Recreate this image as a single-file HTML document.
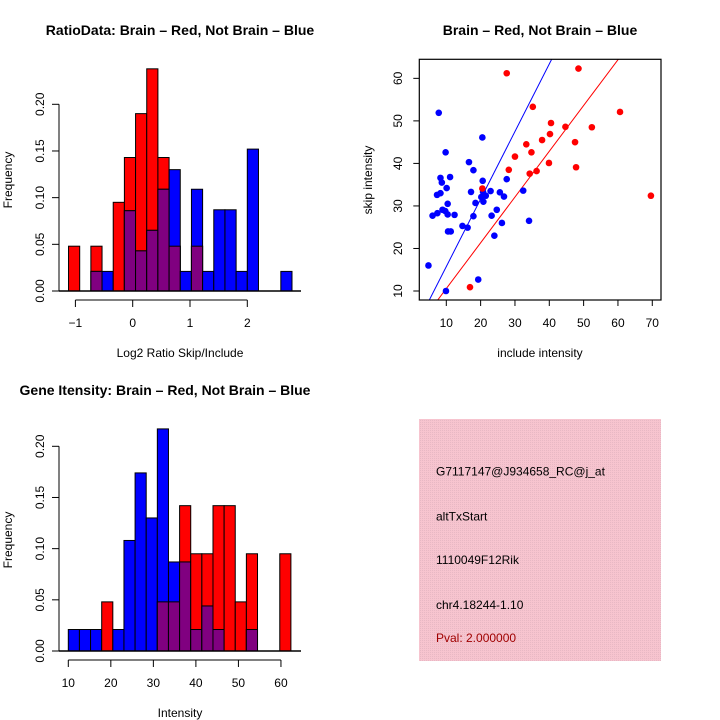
<!DOCTYPE html>
<html><head><meta charset="utf-8"><style>
html,body{margin:0;padding:0;background:#fff}
svg{display:block;font-family:"Liberation Sans",Arial,sans-serif}
</style></head><body>
<svg id="c" width="720" height="720" viewBox="0 0 720 720" xmlns="http://www.w3.org/2000/svg">
<defs>
<pattern id="pk" width="2" height="2" patternUnits="userSpaceOnUse"><rect width="2" height="2" fill="#f7c4cf"/><rect width="1" height="1" fill="#e8b8c4"/></pattern>
</defs>
</svg>
<script>
// ---- Histogram 1: log2 ratio ----
const h1Red  = [0.048,0,0.048,0,0.095,0.143,0.19,0.238,0.143,0.048,0,0.048,0,0,0,0,0,0,0,0];
const h1Blue = [0,0,0.021,0.021,0,0.086,0.043,0.065,0.109,0.13,0.021,0.109,0.021,0.087,0.087,0.021,0.152,0,0,0.021];
const h1Start = -1.12, h1Width = 0.195;
const h1XTicks = [-1,0,1,2];
const h1YTicks = [0,0.05,0.10,0.15,0.20];
// ---- Histogram 2: intensity ----
const h2Red  = [0,0,0,0.048,0,0,0,0,0.048,0.048,0.142,0.095,0.095,0.142,0.142,0.048,0.095,0,0,0.095];
const h2Blue = [0.021,0.021,0.021,0,0.021,0.108,0.174,0.13,0.217,0.087,0.087,0.021,0.044,0.021,0,0,0.021,0,0,0];
const h2Start = 10, h2Width = 2.617;
const h2XTicks = [10,20,30,40,50,60];
const h2YTicks = [0,0.05,0.10,0.15,0.20];
// ---- Scatter ----
const redX = [27.6,48.5,35.2,40.5,44.7,52.4,60.6,33.3,37.9,40.2,47.5,34.8,30.0,28.2,39.9,47.8,36.3,34.3,20.5,69.6,16.9];
const redY = [61.2,62.3,53.3,49.5,48.6,48.5,52.1,44.5,45.5,46.9,45.0,42.6,41.6,38.5,40.1,39.1,38.2,37.6,34.1,32.4,10.9];
const blueX = [7.8,20.5,9.8,16.6,17.9,8.3,11.1,8.7,27.6,20.6,10.1,7.3,8.3,17.2,22.9,20.7,25.6,26.8,20.2,21.5,20.8,32.4,10.4,18.5,8.9,24.7,9.7,7.4,6.0,10.4,12.4,17.9,23.2,34.1,26.2,14.7,16.2,10.5,11.3,24.0,4.8,19.3,9.9];
const blueY = [51.9,46.1,42.6,40.3,38.4,36.6,36.8,35.5,36.3,35.9,34.2,32.6,33.0,33.3,33.5,33.3,33.2,32.2,32.1,32.4,31.0,33.6,30.5,30.7,29.1,29.1,28.8,28.3,27.7,28.0,27.9,27.6,27.7,26.5,26.0,25.3,24.9,24.0,24.0,23.0,16.0,12.7,10.0];
const lineSlopes = [1.588,1.076];
const lineIntercepts = [-0.14,-0.19];
const scXTicks = [10,20,30,40,50,60,70];
const scYTicks = [10,20,30,40,50,60];
const infoLines = ["G7117147@J934658_RC@j_at","altTxStart","1110049F12Rik","chr4.18244-1.10","Pval: 2.000000"];

const svg = document.getElementById('c');
const NS = 'http://www.w3.org/2000/svg';
function mk(tag, attrs, parent){const e=document.createElementNS(NS,tag);for(const k in attrs)e.setAttribute(k,attrs[k]);(parent||svg).appendChild(e);return e;}
function txt(s,x,y,attrs,parent){const e=mk('text',Object.assign({x:x,y:y,'font-size':12,'text-anchor':'middle'},attrs||{}),parent);e.textContent=s;return e;}
function grp(name){const g=mk('g',{});return g;}

function hist(prefix, red, blue, start, width, xs, ys, xTicks, yTicks, box, xlab, title, titleX, titleY){
  const g = grp(prefix+'-chart');
  const bars = grp(prefix+'-bars'); g.appendChild(bars);
  for(let i=0;i<red.length;i++){
    const x0=xs(start+i*width), x1=xs(start+(i+1)*width);
    const r=red[i], b=blue[i], m=Math.min(r,b);
    if(r>0){const e=mk('rect',{x:x0,y:ys(r),width:x1-x0,height:ys(0)-ys(r),fill:'#ff0000',stroke:'#000','stroke-width':1},bars);
       }
    if(b>0){const e=mk('rect',{x:x0,y:ys(b),width:x1-x0,height:ys(0)-ys(b),fill:'#0000ff',stroke:'#000','stroke-width':1},bars);
       
      if(r>0 && b>r){ // redraw red on top? red is smaller: overlap shown purple
      }}
    if(m>0){const e=mk('rect',{x:x0,y:ys(m),width:x1-x0,height:ys(0)-ys(m),fill:'#800080',stroke:'#000','stroke-width':1},bars);
       }
  }
  // baseline
  const bl=mk('line',{x1:box.l,x2:box.r,y1:ys(0),y2:ys(0),stroke:'#000','stroke-width':1.5},g);
   
  // y axis
  const ya=grp(prefix+'-y-axis'); g.appendChild(ya);
  mk('line',{x1:box.l,x2:box.l,y1:ys(yTicks[0]),y2:ys(yTicks[yTicks.length-1]),stroke:'#000'},ya);
  yTicks.forEach(t=>{mk('line',{x1:box.l-7,x2:box.l,y1:ys(t),y2:ys(t),stroke:'#000'},ya);
    txt(t.toFixed(2),0,0,{transform:`translate(44,${ys(t)}) rotate(-90)`},ya);});
  const yt=txt('Frequency',0,0,{transform:`translate(12,${box.ymid}) rotate(-90)`},g);
   
  // x axis
  const xa=grp(prefix+'-x-axis'); g.appendChild(xa);
  mk('line',{x1:xs(xTicks[0]),x2:xs(xTicks[xTicks.length-1]),y1:box.ax,y2:box.ax,stroke:'#000'},xa);
  xTicks.forEach(t=>{mk('line',{x1:xs(t),x2:xs(t),y1:box.ax,y2:box.ax+7,stroke:'#000'},xa);
    txt(String(t).replace('-','\u2212'),xs(t),box.ax+27,{},xa);});
  const xt=txt(xlab,180,box.xlab,{},g);
   
  const tt=txt(title,titleX,titleY,{'font-weight':'bold','font-size':14},g);
   
}

// Histogram 1
hist('ratio-hist', h1Red, h1Blue, h1Start, h1Width,
  v=>132.7+v*57.3, v=>291-v*(291-104.3)/0.2, h1XTicks, h1YTicks,
  {l:59,r:301,ax:300,ymid:180,xlab:357},
  'Log2 Ratio Skip/Include','RatioData: Brain \u2013 Red, Not Brain \u2013 Blue',180,35);
// Histogram 2
hist('intensity-hist', h2Red, h2Blue, h2Start, h2Width,
  v=>68.3+(v-10)*4.253, v=>651-v*(651-446.3)/0.2, h2XTicks, h2YTicks,
  {l:59,r:301,ax:660,ymid:540,xlab:717},
  'Intensity','Gene Itensity: Brain \u2013 Red, Not Brain \u2013 Blue',165,395);

// Scatter
(function(){
  const g=grp('scatter-chart');
  const L=419.3,R=661,T=59.3,B=300;
  const xs=v=>446.3+(v-10)*3.433, ys=v=>291-(v-10)*4.253;
  const cp=mk('clipPath',{id:'sc'},g); mk('rect',{x:L,y:T,width:R-L,height:B-T},cp);
  const lc=['#0000ff','#ff0000'];
  const lg=grp('regression-lines'); g.appendChild(lg); lg.setAttribute('clip-path','url(#sc)');
  for(let i=0;i<lineSlopes.length;i++){
    const x0=0,x1=80;
    const e=mk('line',{x1:xs(x0),y1:ys(lineIntercepts[i]+lineSlopes[i]*x0),x2:xs(x1),y2:ys(lineIntercepts[i]+lineSlopes[i]*x1),stroke:lc[i],'stroke-width':1},lg);
     
  }
  const pg=grp('points'); g.appendChild(pg);
  blueX.forEach((x,i)=>{const e=mk('circle',{cx:xs(x),cy:ys(blueY[i]),r:3.3,fill:'#0000ff'},pg);
     });
  redX.forEach((x,i)=>{const e=mk('circle',{cx:xs(x),cy:ys(redY[i]),r:3.3,fill:'#ff0000'},pg);
     });
  const fr=mk('rect',{x:L,y:T,width:R-L,height:B-T,fill:'none',stroke:'#000','stroke-width':1.2},g);
   
  const xa=grp('scatter-x-axis'); g.appendChild(xa);
  scXTicks.forEach(t=>{mk('line',{x1:xs(t),x2:xs(t),y1:B,y2:B+6,stroke:'#000'},xa); txt(String(t),xs(t),B+27,{},xa);});
  const ya=grp('scatter-y-axis'); g.appendChild(ya);
  scYTicks.forEach(t=>{mk('line',{x1:L-6,x2:L,y1:ys(t),y2:ys(t),stroke:'#000'},ya);
    txt(String(t),0,0,{transform:`translate(402,${ys(t)}) rotate(-90)`},ya);});
  const xt=txt('include intensity',540,357,{},g);  
  const yt=txt('skip intensity',0,0,{transform:`translate(372,180) rotate(-90)`},g);  
  const tt=txt('Brain \u2013 Red, Not Brain \u2013 Blue',540,35,{'font-weight':'bold','font-size':14},g);
   
})();

// Info box
(function(){
  const g=grp('info-box');
  mk('rect',{x:419,y:419,width:242,height:242,fill:'url(#pk)'},g);
  const ys=[475.5,520.5,564,609,642];
  infoLines.forEach((s,i)=>{const e=txt(s,436,ys[i],{'text-anchor':'start',fill:i==4?'#a00000':'#000'},g);
     });
})();
</script>
</body></html>
